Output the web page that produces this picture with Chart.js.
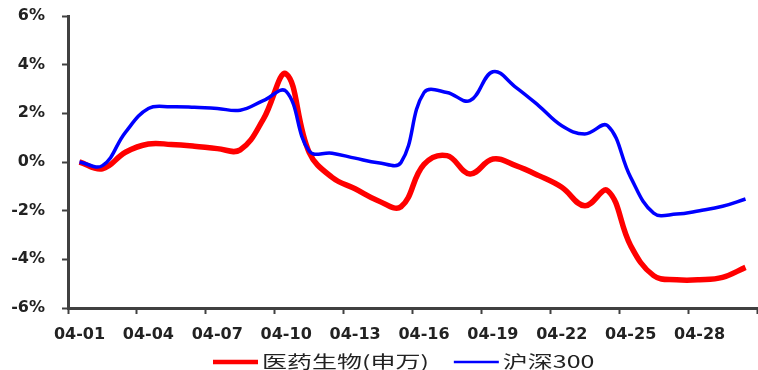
<!DOCTYPE html>
<html>
<head>
<meta charset="utf-8">
<script src="https://cdn.jsdelivr.net/npm/chart.js@4"></script>
<style>
  html, body { margin: 0; padding: 0; background: #fff; }
  canvas { display: block; }
</style>
</head>
<body>
<canvas id="myChart" width="758" height="370"></canvas>
<script>
let dates = [
  "04-01", "04-02", "04-03", "04-04", "04-05", "04-06", "04-07", "04-08", "04-09", "04-10",
  "04-11", "04-12", "04-13", "04-14", "04-15", "04-16", "04-17", "04-18", "04-19", "04-20",
  "04-21", "04-22", "04-23", "04-24", "04-25", "04-26", "04-27", "04-28", "04-29", "04-30",
];
// 医药生物(申万), %
let pharma = [
  0, -0.28, 0.4, 0.74, 0.72, 0.65, 0.55, 0.5, 1.75, 3.62,
  0.4, -0.63, -1.1, -1.59, -1.84, -0.1, 0.26, -0.49, 0.12, -0.15,
  -0.56, -1.04, -1.8, -1.18, -3.44, -4.67, -4.84, -4.84, -4.74, -4.33,
];
// 沪深300, %
let hs300 = [
  0, -0.15, 1.22, 2.2, 2.27, 2.25, 2.2, 2.13, 2.52, 2.9,
  0.45, 0.36, 0.16, -0.03, -0.02, 2.85, 2.86, 2.52, 3.71, 3.07,
  2.31, 1.49, 1.15, 1.49, -0.63, -2.1, -2.14, -2.0, -1.82, -1.52,
];
let yMin = -6, yMax = 6, yStep = 2;

const axisColor = "#404040";
const tickFont = { family: "DejaVu Sans", size: 16, weight: "bold" };

// legend drawn by hand below the axis, text stretched like the original
const bottomLegend = {
  id: "bottomLegend",
  afterDraw(chart) {
    const c = chart.ctx;
    const sx = 1.47;
    let x = 213;
    const y = 362;
    c.save();
    c.font = '17px "Noto Sans CJK SC"';
    c.textBaseline = "middle";
    chart.data.datasets.forEach((ds) => {
      c.strokeStyle = ds.borderColor;
      c.lineWidth = ds.borderWidth - 1;
      c.beginPath();
      c.moveTo(x, y);
      c.lineTo(x + 45, y);
      c.stroke();
      x += 49;
      const w = c.measureText(ds.label).width * sx;
      c.save();
      c.translate(x, y);
      c.scale(sx, 1);
      c.fillStyle = "#222";
      c.fillText(ds.label, 0, 0);
      c.restore();
      x += w + 25;
    });
    c.restore();
  },
};

let ctx = document.getElementById("myChart").getContext("2d");
let myChart = new Chart(ctx, {
  type: "line",
  data: {
    labels: dates,
    datasets: [
      {
        label: "医药生物(申万)",
        data: pharma,
        borderColor: "#ff0000",
        borderWidth: 5.5,
        order: 2,
      },
      {
        label: "沪深300",
        data: hs300,
        borderColor: "#0000ff",
        borderWidth: 3.5,
        order: 1,
      },
    ],
  },
  options: {
    responsive: false,
    animation: false,
    devicePixelRatio: 1,
    layout: { padding: { top: 16, right: 1, bottom: 22, left: 0 } },
    elements: {
      point: { radius: 0 },
      line: { tension: 0.4, fill: false },
    },
    plugins: {
      legend: { display: false },
      tooltip: { enabled: false },
    },
    scales: {
      x: {
        offset: true,
        grid: {
          offset: true,
          drawOnChartArea: false,
          tickLength: 6,
          tickWidth: 2,
          tickColor: (c) =>
            c.type !== "tick" || c.index % 3 === 0 ? axisColor : "rgba(0,0,0,0)",
        },
        border: { color: axisColor, width: 3 },
        ticks: {
          autoSkip: false,
          maxRotation: 0,
          padding: 11,
          color: "#222",
          font: tickFont,
          callback: (v, i) => (i % 3 === 0 ? dates[i] : ""),
        },
        afterFit: (s) => { s.height = 40; },
      },
      y: {
        min: yMin,
        max: yMax,
        grid: {
          drawOnChartArea: false,
          tickLength: 6,
          tickWidth: 2,
          tickColor: axisColor,
        },
        border: { color: axisColor, width: 3 },
        ticks: {
          stepSize: yStep,
          padding: 17,
          color: "#222",
          font: tickFont,
          callback: (v) => v + "%",
        },
        afterFit: (s) => {
          s.width = 68;
          s.paddingTop = 10;
          s.paddingBottom = 10;
        },
      },
    },
  },
  plugins: [bottomLegend],
});
</script>
</body>
</html>
